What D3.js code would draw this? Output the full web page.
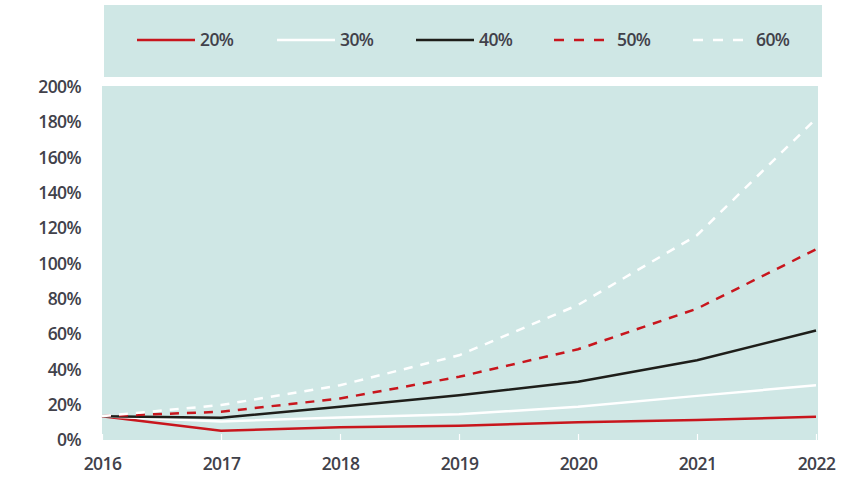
<!DOCTYPE html>
<html><head><meta charset="utf-8">
<script src="https://cdn.jsdelivr.net/npm/d3@7"></script>
<style>body{margin:0;background:#fff;font-family:"Open Sans",sans-serif;}</style>
</head><body><svg id="c" width="852" height="485"></svg>
<script>
const years = [2016, 2017, 2018, 2019, 2020, 2021, 2022];
const yTicks = [0, 20, 40, 60, 80, 100, 120, 140, 160, 180, 200];
const seriesNames = ["20%", "30%", "40%", "50%", "60%"];
const s20 = [13.5, 5.3, 7.2, 8.1, 10.0, 11.3, 13.2];
const s30 = [13.5, 10.5, 12.8, 14.6, 18.8, 25.0, 31.0];
const s40 = [13.5, 12.6, 18.8, 25.4, 33.0, 45.2, 62.0];
const s50 = [13.5, 16.0, 23.5, 35.8, 51.4, 74.4, 108.0];
const s60 = [13.5, 19.8, 31.0, 48.0, 76.5, 116.0, 182.0];

const series = [
  {name: seriesNames[0], values: s20, color: "#c8161d", dash: null},
  {name: seriesNames[1], values: s30, color: "#ffffff", dash: null},
  {name: seriesNames[2], values: s40, color: "#1e1e1a", dash: null},
  {name: seriesNames[3], values: s50, color: "#c8161d", dash: "9,8"},
  {name: seriesNames[4], values: s60, color: "#ffffff", dash: "9,8"}
];

const svg = d3.select("#c");
const bg = "#cfe7e5";
const txt = "#41414a";
const fs = 17.5;

// legend box
svg.append("rect").attr("x", 104).attr("y", 5).attr("width", 718).attr("height", 72).attr("fill", bg);
const legX = [137, 277, 416, 554, 693];
series.forEach((s, i) => {
  const g = svg.append("g").attr("transform", `translate(${legX[i]},40)`);
  g.append("line").attr("x1", 0).attr("x2", 58).attr("y1", 0).attr("y2", 0)
    .attr("stroke", s.color).attr("stroke-width", 2.5)
    .attr("stroke-dasharray", s.dash ? "10,10" : null);
  g.append("text").attr("x", 63).attr("y", 0).attr("dy", "0.35em")
    .attr("fill", txt).attr("font-size", fs).attr("font-weight", 600)
    .attr("letter-spacing", -0.6).text(s.name);
});

// plot
const x = d3.scaleLinear().domain([2016, 2022]).range([102, 816]);
const y = d3.scaleLinear().domain([0, 200]).range([440, 87]);

svg.append("rect").attr("x", 102).attr("y", 86).attr("width", 716).attr("height", 354).attr("fill", bg);

// x ticks (white, inside plot)
const xAxis = d3.axisBottom(x).tickValues(years).tickFormat(d3.format("d")).tickSize(-6).tickPadding(18);
const gx = svg.append("g").attr("transform", "translate(0,440)").call(xAxis);
gx.select(".domain").remove();
gx.selectAll(".tick line").attr("stroke", "#ffffff").attr("stroke-width", 1.2);
gx.selectAll(".tick text").attr("fill", txt).attr("font-size", fs).attr("font-weight", 600)
  .attr("font-family", "Open Sans").attr("letter-spacing", -0.6);

// y axis labels
const yAxis = d3.axisLeft(y).tickValues(yTicks).tickFormat(d => d + "%").tickSize(0).tickPadding(21);
const gy = svg.append("g").attr("transform", "translate(102,0)").call(yAxis);
gy.select(".domain").remove();
gy.selectAll(".tick text").attr("fill", txt).attr("font-size", fs).attr("font-weight", 600)
  .attr("font-family", "Open Sans").attr("letter-spacing", -0.6);

const line = d3.line().x((d, i) => x(years[i])).y(d => y(d));
series.forEach(s => {
  svg.append("path").datum(s.values).attr("d", line)
    .attr("fill", "none").attr("stroke", s.color).attr("stroke-width", 2.5)
    .attr("stroke-dasharray", s.dash);
});
</script></body></html>
